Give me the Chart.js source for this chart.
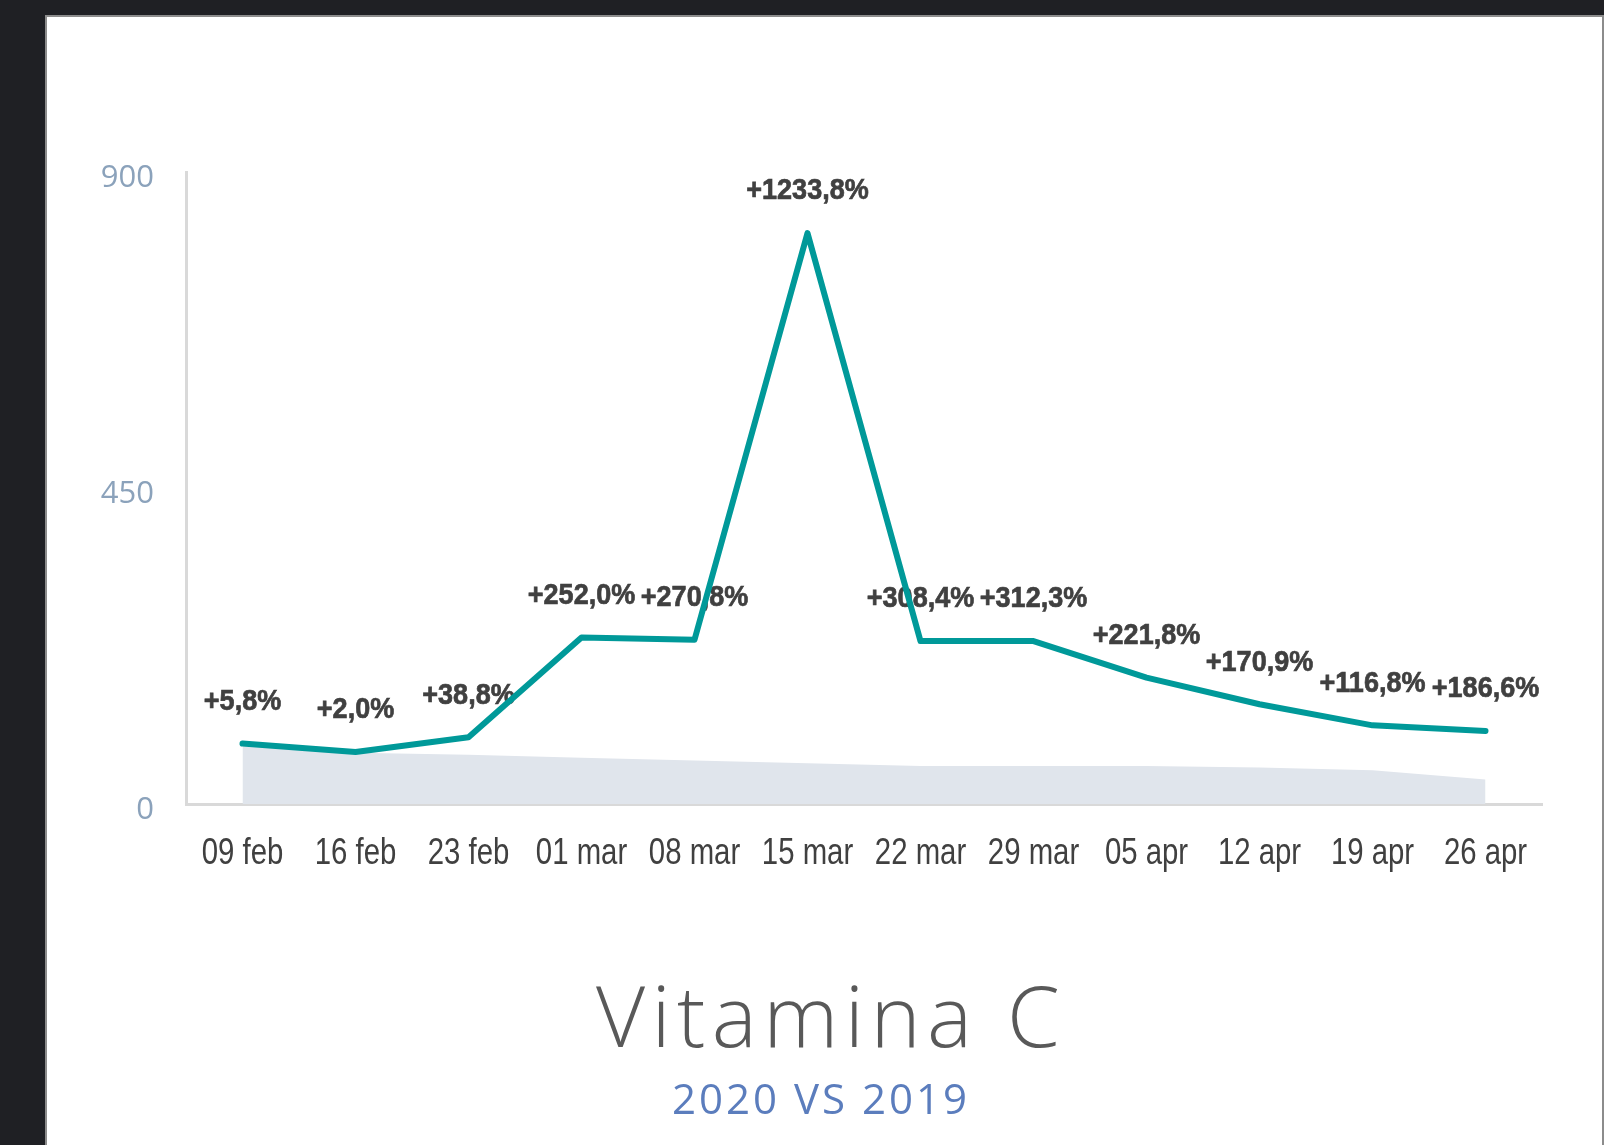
<!DOCTYPE html>
<html>
<head>
<meta charset="utf-8">
<script src="https://cdn.jsdelivr.net/npm/chart.js@4/dist/chart.umd.min.js"></script>
<style>
  html, body { margin: 0; padding: 0; }
  body { width: 1604px; height: 1145px; background: #1f2024; position: relative; overflow: hidden; }
  .card {
    position: absolute; left: 45px; top: 15px; width: 1559px; height: 1160px;
    box-sizing: border-box; background: #fff;
    border: 2px solid #8c8c8c; border-bottom: none;
  }
  #chart { position: absolute; left: 0; top: 0; }
  .title {
    position: absolute; width: 1000px; text-align: center; white-space: nowrap;
    font-family: "Open Sans", sans-serif;
  }
  .main { left: 325px; top: 972px; font-size: 85px; line-height: 85px; font-weight: 300; color: #595959; letter-spacing: 6.4px; padding-left: 6px; }
  .sub { left: 318px; top: 1077px; font-size: 42px; line-height: 42px; font-weight: 400; color: #5b7dbd; letter-spacing: 3px; padding-left: 3px; }
</style>
</head>
<body>
<div class="card"></div>
<canvas id="chart" width="1604" height="1145"></canvas>
<div class="title main">Vitamina C</div>
<div class="title sub">2020 VS 2019</div>
<script>
const weeks = ["09 feb", "16 feb", "23 feb", "01 mar", "08 mar", "15 mar", "22 mar", "29 mar", "05 apr", "12 apr", "19 apr", "26 apr"];
const sales2020 = [86, 74, 95, 237, 234, 813, 232, 232, 180, 142, 112, 104];
const sales2019 = [83, 73, 70, 66, 62, 58, 54, 54, 54, 52, 48, 35];
const changeLabels = ["+5,8%", "+2,0%", "+38,8%", "+252,0%", "+270,8%", "+1233,8%", "+308,4%", "+312,3%", "+221,8%", "+170,9%", "+116,8%", "+186,6%"];
const yTicks = [0, 450, 900];

const narrowFont = '"Liberation Sans", Arial, sans-serif';

// narrow text: Liberation Sans squeezed sideways
function drawNarrow(ctx, text, x, y, squeeze, stroke) {
  ctx.save();
  ctx.translate(x, y);
  ctx.scale(squeeze, 1);
  ctx.fillText(text, 0, 0);
  if (stroke) ctx.strokeText(text, 0, 0);
  ctx.restore();
}

// % labels above the 2020 line, drawn before the line so it passes over them
const changeLabelPlugin = {
  id: "changeLabels",
  beforeDatasetDraw(chart, args) {
    if (args.index !== 0) return;
    const ctx = chart.ctx;
    const meta = chart.getDatasetMeta(0);
    ctx.save();
    ctx.font = "bold 30px " + narrowFont;
    ctx.fillStyle = "#404040";
    ctx.strokeStyle = "#404040";
    ctx.lineWidth = 0.7;
    ctx.textAlign = "center";
    ctx.textBaseline = "middle";
    meta.data.forEach((pt, i) => {
      drawNarrow(ctx, changeLabels[i], pt.x, pt.y - 42, 0.9, true);
    });
    ctx.restore();
  },
  afterDraw(chart) {
    const ctx = chart.ctx;
    const xs = chart.scales.x;
    ctx.save();
    ctx.font = "36px " + narrowFont;
    ctx.fillStyle = "#404040";
    ctx.textAlign = "center";
    ctx.textBaseline = "middle";
    xs.ticks.forEach((t, i) => {
      drawNarrow(ctx, xs.getLabelForValue(t.value), xs.getPixelForTick(i), xs.bottom - 50, 0.815, false);
    });
    ctx.restore();
  }
};

const ctx = document.getElementById("chart").getContext("2d");

new Chart(ctx, {
  type: "line",
  data: {
    labels: weeks,
    datasets: [
      {
        label: "2020",
        data: sales2020,
        borderColor: "#009999",
        borderWidth: 6,
        borderCapStyle: "round",
        borderJoinStyle: "round",
        pointRadius: 0,
        tension: 0,
        fill: false
      },
      {
        label: "2019",
        data: sales2019,
        borderWidth: 0,
        backgroundColor: "#e0e5ec",
        pointRadius: 0,
        tension: 0,
        fill: "origin"
      }
    ]
  },
  options: {
    responsive: false,
    animation: false,
    layout: { padding: { left: 0, right: 62, top: 172, bottom: 241 } },
    plugins: {
      legend: { display: false },
      tooltip: { enabled: false }
    },
    scales: {
      x: {
        offset: true,
        afterFit(scale) { scale.height = 100; },
        grid: { display: false, drawTicks: false },
        border: { display: true, color: "#d9d9d9", width: 3 },
        ticks: { display: false, autoSkip: false }
      },
      y: {
        min: 0,
        max: 900,
        afterFit(scale) { scale.width = 186; },
        afterBuildTicks(scale) { scale.ticks = yTicks.map(v => ({ value: v })); },
        grid: { display: false, drawTicks: false },
        border: { display: true, color: "#d9d9d9", width: 3 },
        ticks: {
          padding: 32,
          labelOffset: 6,
          color: "#8ba2bb",
          font: { family: '"Open Sans", sans-serif', size: 31 }
        }
      }
    }
  },
  plugins: [changeLabelPlugin]
});
</script>
</body>
</html>
